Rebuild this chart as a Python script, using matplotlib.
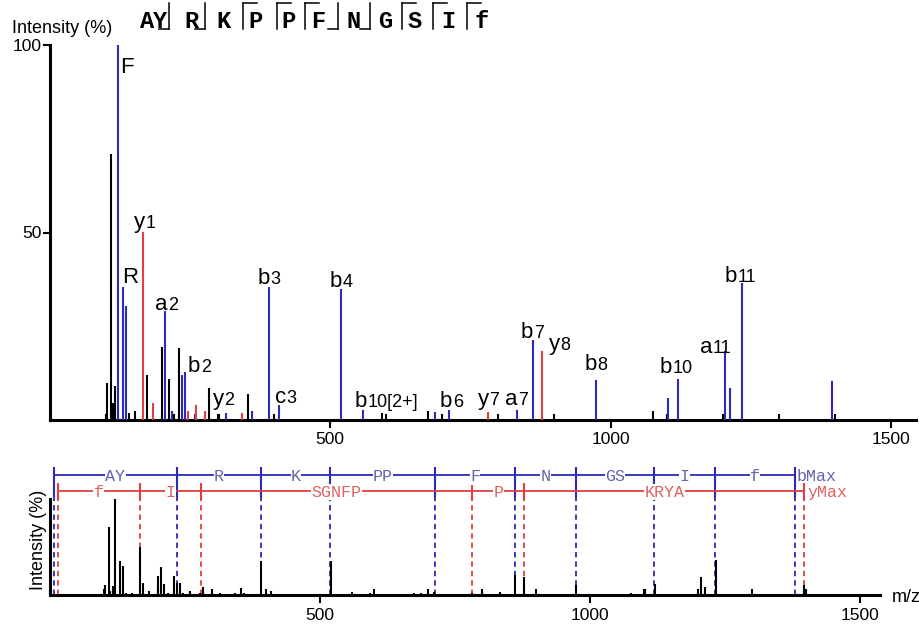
import matplotlib
matplotlib.use("Agg")
import matplotlib.pyplot as plt
from matplotlib.lines import Line2D
from matplotlib.ticker import MultipleLocator, FixedLocator

plt.rcParams['font.family'] = ['Liberation Sans', 'DejaVu Sans']

# ---------------- data ----------------
peak_mz = [101, 109, 112, 116, 121, 129.6, 135.6, 141, 152, 166.5, 172.4, 184,
           200, 206, 212, 218, 222, 229.5, 235, 241, 246, 258, 260, 277, 283.6,
           301, 314, 343, 354, 360, 391, 409, 519.7, 559, 593, 674, 687, 712,
           781, 832.5, 861, 878, 974.5, 1076, 1102, 1119.6, 1205, 1213.6, 1234,
           1395.5]
peak_int = [9.9, 71, 4.5, 9, 100, 35.5, 30.5, 2, 2.5, 50.2, 12, 4.5,
            19.5, 29, 11, 2.5, 1.5, 19.3, 12, 12.7, 2.5, 1.5, 4, 2.5, 8.5,
            1.5, 2, 2, 7, 2.5, 35.5, 4, 35, 2.7, 2, 2.5, 2.2, 2.7,
            2.2, 2.7, 21.3, 18.4, 10.7, 2.4, 6, 11, 18.3, 8.6, 36.6,
            10.3]
peak_type = ['k', 'k', 'k', 'k', 'b', 'b', 'b', 'k', 'k', 'r', 'k', 'r',
             'k', 'b', 'k', 'b', 'k', 'k', 'b', 'b', 'r', 'b', 'r', 'r', 'k',
             'k', 'b', 'r', 'k', 'b', 'b', 'b', 'b', 'b', 'k', 'k', 'b', 'b',
             'r', 'b', 'b', 'r', 'b', 'k', 'b', 'b', 'b', 'b', 'b',
             'b']

ion_letter = ['F', 'y', 'R', 'a', 'b', 'y', 'b', 'c', 'b', 'b', 'b', 'y', 'a',
              'b', 'y', 'b', 'b', 'a', 'b']
ion_sub = ['', '1', '', '2', '2', '2', '3', '3', '4', '10[2+]', '6', '7', '7',
           '7', '8', '8', '10', '11', '11']
ion_x = [124.9, 149.8, 128.4, 187.3, 246.2, 290.8, 371, 401.4, 499.5, 544,
         695.7, 763.5, 811.6, 840, 890, 954.3, 1088, 1159.5, 1204]
ion_y = [92.5, 51.2, 36.5, 29.3, 12.8, 4, 36.3, 4.5, 35.5, 3.5, 3.5, 4, 4,
         21.9, 18.7, 13.3, 12.5, 17.9, 36.8]

residues = ['A', 'Y', 'R', 'K', 'P', 'P', 'F', 'N', 'G', 'S', 'I', 'f']
# cleavage marker after residue index: 'b' (bottom hook) / 'y' (top hook)
cleave_after = [1, 2, 3, 4, 5, 6, 7, 8, 9, 10]
cleave_kind = ['b', 'b', 'y', 'y', 'y', 'b', 'b', 'y', 'y', 'y']

b_ladder = [7, 235.1, 391.2, 519.3, 713.4, 860.5, 974.5, 1118.6, 1231.7, 1378.8]
b_steps = ['AY', 'R', 'K', 'PP', 'F', 'N', 'GS', 'I', 'f']
y_ladder = [14, 166.1, 279.2, 781.4, 878.5, 1396.8]
y_steps = ['f', 'I', 'SGNFP', 'P', 'KRYA']

x_ticks = [500, 1000, 1500]
y_ticks_top = [50, 100]

# ---------------- style ----------------
W, H = 920, 629
BLUE = '#2b2bb8'
RED = '#e0403f'
BLUE_T = '#6262b0'
RED_T = '#dd6262'
cmap = {'k': 'black', 'b': BLUE, 'r': RED}

fig = plt.figure(figsize=(W / 100, H / 100), dpi=100)


def fx(px):
    return px / W


def fy(py):
    return 1 - py / H


def style_axis(ax):
    for s in ['top', 'right']:
        ax.spines[s].set_visible(False)
    for s in ['left', 'bottom']:
        ax.spines[s].set_linewidth(2.2)
    ax.xaxis.set_major_locator(FixedLocator(x_ticks))
    ax.xaxis.set_minor_locator(MultipleLocator(100))
    ax.tick_params(axis='x', which='major', direction='out', length=6,
                   width=1.5, labelsize=12.5, pad=3)
    ax.tick_params(axis='x', which='minor', direction='in', length=4,
                   width=1.5)


# ---------------- top panel ----------------
ax1 = fig.add_axes([fx(50), fy(420), fx(866), 375 / H])
ax1.set_xlim(0, 1545)
ax1.set_ylim(0, 100)
style_axis(ax1)
ax1.set_yticks(y_ticks_top)
ax1.set_yticklabels([str(v) for v in y_ticks_top])
ax1.tick_params(axis='y', direction='out', length=5, width=1.5,
                labelsize=12.5, pad=1)
ax1.vlines(peak_mz, 0, peak_int, colors=[cmap[t] for t in peak_type],
           linewidth=1.5, zorder=3)

for let, sub, x, y in zip(ion_letter, ion_sub, ion_x, ion_y):
    t = ax1.text(x, y, let, fontsize=16, ha='left', va='baseline',
                 zorder=5, clip_on=False)
    if sub:
        ax1.annotate(sub, xy=(1, 0), xycoords=t, xytext=(0.3, 0.6),
                     textcoords='offset points', fontsize=13,
                     ha='left', va='bottom', zorder=5)

fig.text(fx(12), fy(33), 'Intensity (%)', fontsize=13, ha='left',
         va='baseline')

# sequence with cleavage markers
letter_px = [146.7, 160, 191.7, 223.3, 255, 288.3, 318.3, 353.3, 385, 415,
             448.3, 481.7]
marker_px = [169, 205, 243.3, 276.7, 305, 338.3, 370, 401.7, 433.3, 466.7]
for r, px in zip(residues, letter_px):
    fig.text(fx(px), fy(28), r, family=['Liberation Mono', 'DejaVu Sans Mono'],
             fontweight='bold', fontsize=17, ha='center', va='baseline')
for idx, kind, px in zip(cleave_after, cleave_kind, marker_px):
    fig.add_artist(Line2D([fx(px), fx(px)], [fy(3), fy(28.5)], color='black',
                          linewidth=1.1, transform=fig.transFigure))
    if kind == 'b':
        fig.add_artist(Line2D([fx(px - 10), fx(px)], [fy(28.5), fy(28.5)],
                              color='black', linewidth=1.1,
                              transform=fig.transFigure))
    else:
        fig.add_artist(Line2D([fx(px), fx(px + 14)], [fy(3), fy(3)],
                              color='black', linewidth=1.1,
                              transform=fig.transFigure))

# ---------------- bottom panel ----------------
ax2 = fig.add_axes([fx(50), 34 / H, fx(830), 96 / H])
ax2.set_xlim(0, 1537)
ax2.set_ylim(0, 100)
style_axis(ax2)
ax2.set_yticks([])

yb, yr = 124.5, 108.6
# dashed guides
ax2.vlines(b_ladder, 0, 102, colors=BLUE, linestyles=(0, (3, 2.2)),
           linewidth=1.3, zorder=1, clip_on=False)
ax2.vlines(y_ladder, 0, 99, colors=RED, linestyles=(0, (3, 2.2)),
           linewidth=1.3, zorder=1, clip_on=False)
# ladders
ax2.plot([b_ladder[0], b_ladder[-1]], [yb, yb], color=BLUE, linewidth=1.3,
         clip_on=False, zorder=2)
ax2.vlines(b_ladder, 102, 133.3, colors=BLUE, linewidth=1.5, clip_on=False,
           zorder=2)
ax2.plot([y_ladder[0], y_ladder[-1]], [yr, yr], color=RED, linewidth=1.3,
         clip_on=False, zorder=2)
ax2.vlines(y_ladder, 99, 116.7, colors=RED, linewidth=1.5, clip_on=False,
           zorder=2)
mono = ['Liberation Mono', 'DejaVu Sans Mono']
LFS = 12
for i, s in enumerate(b_steps):
    xm = (b_ladder[i] + b_ladder[i + 1]) / 2
    ax2.text(xm, yb, s, family=mono, fontsize=LFS, color=BLUE_T, ha='center',
             va='center_baseline', clip_on=False, zorder=4,
             bbox=dict(facecolor='white', edgecolor='none', pad=0.3))
ax2.text(b_ladder[-1] + 4, yb, 'bMax', family=mono, fontsize=LFS,
         color=BLUE_T, ha='left', va='center_baseline', clip_on=False,
         zorder=4)
for i, s in enumerate(y_steps):
    xm = (y_ladder[i] + y_ladder[i + 1]) / 2
    ax2.text(xm, yr, s, family=mono, fontsize=LFS, color=RED_T, ha='center',
             va='center_baseline', clip_on=False, zorder=4,
             bbox=dict(facecolor='white', edgecolor='none', pad=0.3))
ax2.text(y_ladder[-1] + 6, yr, 'yMax', family=mono, fontsize=LFS,
         color=RED_T, ha='left', va='center_baseline', clip_on=False,
         zorder=4)

ax2.vlines(peak_mz, 0, peak_int, colors='black', linewidth=1.5, zorder=3)

fig.text(fx(38.5), fy(540), 'Intensity (%)', fontsize=13, rotation=90,
         ha='center', va='center')
fig.text(fx(892), fy(597), 'm/z', fontsize=13, ha='left', va='center')

fig.savefig('out.png', dpi=100)
